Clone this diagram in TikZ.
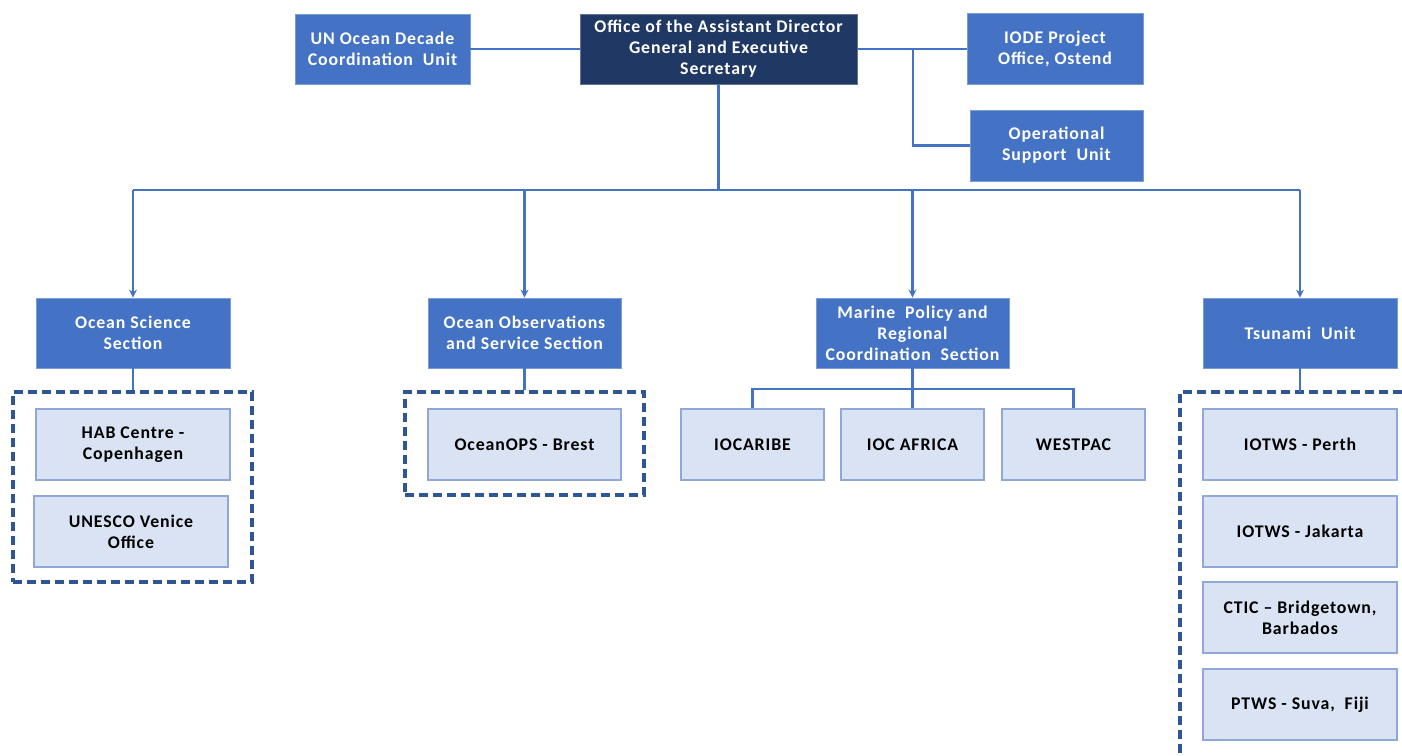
\documentclass[tikz,border=0pt]{standalone}
\usepackage{fontspec}
\setmainfont{Carlito}
\newfontfamily\boxfont[LetterSpace=5]{Carlito}
\usetikzlibrary{arrows.meta}
\definecolor{midblue}{HTML}{4472C4}
\definecolor{navy}{HTML}{203864}
\definecolor{lightbox}{HTML}{DAE3F3}
\definecolor{lightborder}{HTML}{8FA8D6}
\definecolor{dashblue}{HTML}{2F5597}
\begin{document}
\begin{tikzpicture}[x=0.5pt,y=-0.5pt,
  base/.style={inner sep=0pt, align=center, font=\boxfont\fontsize{8.9}{10.5}\selectfont\bfseries},
  bluebox/.style={base, fill=midblue, draw=midblue!70!white, line width=0.4pt, text=white},
  navybox/.style={base, fill=navy, draw=navy!70!white, line width=0.4pt, text=white},
  subbox/.style={base, fill=lightbox, draw=lightborder, line width=0.6pt, text=black},
  groupbox/.style={draw=dashblue, line width=1.7pt, dash pattern=on 4.5pt off 2.5pt, inner sep=0pt},
  conn/.style={draw=midblue, line width=1.2pt},
  arr/.style={conn, -{Stealth[length=4pt,width=4pt]}}
]
\useasboundingbox (0,0) rectangle (1402,755);

% top level
\node[bluebox, minimum width=87.5pt, minimum height=35pt] (un) at (382.5,49) {UN Ocean Decade\\Coordination~ Unit};
\node[navybox, minimum width=138.5pt, minimum height=35pt] (adg) at (718.5,49) {Office of the Assistant Director\\General and Executive\\Secretary};
\node[bluebox, minimum width=88pt, minimum height=35.5pt] (iode) at (1055,48.5) {IODE Project\\Office, Ostend};
\node[bluebox, minimum width=86.5pt, minimum height=35.5pt] (ops) at (1056.5,145.5) {Operational\\Support~ Unit};

% sections
\node[bluebox, minimum width=97pt, minimum height=35pt] (oss) at (133,333) {Ocean Science\\Section};
\node[bluebox, minimum width=96.5pt, minimum height=35pt] (oos) at (524.5,333) {Ocean Observations\\and Service Section};
\node[bluebox, minimum width=96.5pt, minimum height=35pt] (mprc) at (912.5,333) {Marine~ Policy and\\Regional\\Coordination~ Section};
\node[bluebox, minimum width=97pt, minimum height=35pt] (tsu) at (1300,333) {Tsunami~ Unit};

% dashed groups
\node[groupbox, minimum width=119.5pt, minimum height=95pt] (gl) at (132.5,487) {};
\node[groupbox, minimum width=119.5pt, minimum height=51.5pt] (gm) at (524.5,443.5) {};
\coordinate (grtl) at (1180,392);
\coordinate (grtr) at (1402,392);
\coordinate (grbl) at (1180,755);
\draw[groupbox] (grtr) -- (grtl) -- (grbl);

% sub boxes
\node[subbox, minimum width=97pt, minimum height=35.5pt] (hab) at (133,444.5) {HAB Centre -\\Copenhagen};
\node[subbox, minimum width=97pt, minimum height=35.5pt] (ven) at (131,531.5) {UNESCO Venice\\Office};
\node[subbox, minimum width=96.5pt, minimum height=35.5pt] (oops) at (524.5,444.5) {OceanOPS - Brest};
\node[subbox, minimum width=71.5pt, minimum height=35.5pt] (ioc) at (752.5,444.5) {IOCARIBE};
\node[subbox, minimum width=71.5pt, minimum height=35.5pt] (afr) at (912.5,444.5) {IOC AFRICA};
\node[subbox, minimum width=71.5pt, minimum height=35.5pt] (wp) at (1073.5,444.5) {WESTPAC};
\node[subbox, minimum width=97pt, minimum height=35.5pt] (per) at (1300,444.5) {IOTWS - Perth};
\node[subbox, minimum width=97pt, minimum height=35.5pt] (jak) at (1300,531.5) {IOTWS - Jakarta};
\node[subbox, minimum width=97pt, minimum height=35.5pt] (ctic) at (1300,617.5) {CTIC – Bridgetown,\\Barbados};
\node[subbox, minimum width=97pt, minimum height=35.5pt] (ptws) at (1300,704.5) {PTWS - Suva,~ Fiji};

% top connectors
\draw[conn] (un.east) -- (adg.west);
\draw[conn] (adg.east) -- (iode.west |- adg.east);
\coordinate (br) at (913,49);
\draw[conn] (br) |- (ops.west);

% main bus
\coordinate (bus) at (718.5,190);
\draw[conn] (adg.south) -- (bus);
\draw[conn] (oss.north |- bus) -- (tsu.north |- bus);
\draw[arr] (oss.north |- bus) -- (oss.north);
\draw[arr] (oos.north |- bus) -- (oos.north);
\draw[arr] (mprc.north |- bus) -- (mprc.north);
\draw[arr] (tsu.north |- bus) -- (tsu.north);

% section to groups
\draw[conn] (oss.south) -- (oss.south |- gl.north);
\draw[conn] (oos.south) -- (oos.south |- gm.north);
\draw[conn] (tsu.south) -- (tsu.south |- grtl);

% marine policy children
\coordinate (mbus) at (913,389);
\draw[conn] (mprc.south) -- (afr.north);
\draw[conn] (ioc.north) -- (ioc.north |- mbus) -- (wp.north |- mbus) -- (wp.north);
\end{tikzpicture}
\end{document}
